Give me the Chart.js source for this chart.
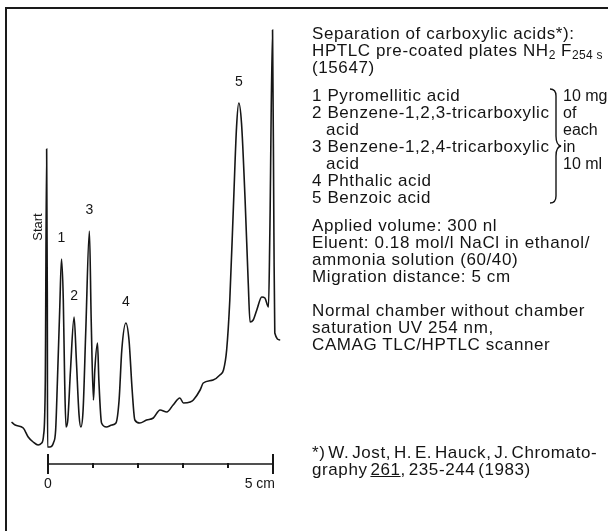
<!DOCTYPE html>
<html>
<head>
<meta charset="utf-8">
<script src="https://cdn.jsdelivr.net/npm/chart.js@4/dist/chart.umd.min.js"></script>
<style>
  body { margin: 0; background: #fff; }
  #wrap { position: relative; width: 608px; height: 531px; overflow: hidden; background: #fff; }
  #chartBox { position: absolute; left: 0; top: 0; width: 608px; height: 531px; }
  #frame { position: absolute; left: 5px; top: 7px; right: -5px; bottom: -5px;
           border-top: 2px solid #1a1a1a; border-left: 2px solid #1a1a1a; pointer-events: none; }
  .txt { position: absolute; font-family: "Liberation Sans", Arial, sans-serif; font-size: 17px;
         line-height: 17px; letter-spacing: 0.6px; color: #141414; white-space: nowrap; }
  .txt sub { font-size: 12px; vertical-align: -3px; line-height: 0; letter-spacing: 0.3px; }
  .ind { padding-left: 14px; }
  .side { font-size: 16px; letter-spacing: 0; }
  .foot { word-spacing: -2.5px; }
</style>
</head>
<body>
<div id="wrap">
  <div id="chartBox"><canvas id="tlcChart"></canvas></div>
  <div id="frame"></div>

  <div class="txt" style="left:312px; top:25px;">
    <div>Separation of carboxylic acids*):</div>
    <div>HPTLC pre-coated plates NH<sub>2</sub> F<sub>254 s</sub></div>
    <div>(15647)</div>
  </div>
  <div class="txt" style="left:312px; top:87px;">
    <div>1 Pyromellitic acid</div>
    <div>2 Benzene-1,2,3-tricarboxylic</div>
    <div class="ind">acid</div>
    <div>3 Benzene-1,2,4-tricarboxylic</div>
    <div class="ind">acid</div>
    <div>4 Phthalic acid</div>
    <div>5 Benzoic acid</div>
  </div>
  <svg style="position:absolute; left:548px; top:88px;" width="16" height="116">
    <path d="M2 1 Q8 1 8 8 L8 48 Q8 57 13 58 Q8 59 8 68 L8 108 Q8 115 2 115"
          fill="none" stroke="#141414" stroke-width="1.4"/>
  </svg>
  <div class="txt side" style="left:563px; top:87px;">
    <div>10 mg</div>
    <div>of</div>
    <div>each</div>
    <div>in</div>
    <div>10 ml</div>
  </div>
  <div class="txt" style="left:312px; top:217px;">
    <div>Applied volume: 300 nl</div>
    <div>Eluent: 0.18 mol/l NaCl in ethanol/</div>
    <div>ammonia solution (60/40)</div>
    <div>Migration distance: 5 cm</div>
  </div>
  <div class="txt" style="left:312px; top:302px;">
    <div>Normal chamber without chamber</div>
    <div>saturation UV 254 nm,</div>
    <div>CAMAG TLC/HPTLC scanner</div>
  </div>
  <div class="txt foot" style="left:312px; top:444px;">
    <div>*) W. Jost, H. E. Hauck, J. Chromato-</div>
    <div>graphy <u>261</u>, 235-244 (1983)</div>
  </div>
</div>

<script>
// Densitogram trace: migration distance (cm) vs detector signal
const positions = [
  -0.81, -0.73, -0.55, -0.44, -0.33, -0.22, -0.14, -0.10, -0.06, -0.03, -0.015, -0.01,
  0.04, 0.12, 0.17, 0.21, 0.26, 0.30, 0.34, 0.37, 0.40, 0.44, 0.50, 0.58, 0.63, 0.69,
  0.73, 0.78, 0.84, 0.92, 0.96, 1.01, 1.04, 1.10, 1.13, 1.19, 1.30, 1.42, 1.51, 1.58,
  1.64, 1.73, 1.80, 1.87, 1.93, 2.04, 2.19, 2.34, 2.49, 2.64, 2.78, 2.93, 3.01, 3.16,
  3.23, 3.38, 3.45, 3.67, 3.82, 3.90, 3.97, 4.04, 4.12, 4.19, 4.24, 4.30, 4.38, 4.45,
  4.49, 4.56, 4.64, 4.75, 4.82, 4.90, 4.93, 4.99, 5.02, 5.04, 5.16
];
const signal = [
  42, 39, 36, 27, 22, 19, 21, 28, 84, 315, 164, 17,
  17, 21, 34, 84, 154, 205, 164, 84, 37, 44, 94, 147, 104, 49,
  37, 54, 134, 233, 144, 64, 94, 121, 84, 41, 37, 39, 41, 64,
  114, 141, 124, 74, 44, 41, 44, 46, 54, 52, 59, 66, 61, 62,
  64, 74, 81, 84, 89, 94, 114, 164, 257, 337, 361, 341, 264, 181,
  142, 144, 154, 167, 166, 157, 231, 434, 231, 131, 124
];

// peak numbers and their migration distance (cm)
const peakLabels = ["1", "2", "3", "4", "5"];
const peakPositions = [0.30, 0.58, 0.92, 1.73, 4.24];

// scale bar under the trace
const scaleTicks = [0, 1, 2, 3, 4, 5];
const scaleTickLabels = ["0", "", "", "", "", "5 cm"];

const startPosition = -0.03;

const annotations = {
    id: "annotations",
    afterDatasetsDraw(chart) {
        const { ctx, scales } = chart;
        const x = scales.x, y = scales.y;
        ctx.save();
        ctx.strokeStyle = "#161616";
        ctx.fillStyle = "#161616";

        // scale bar
        const barY = y.getPixelForValue(0);
        const x0 = x.getPixelForValue(scaleTicks[0]);
        const x1 = x.getPixelForValue(scaleTicks[scaleTicks.length - 1]);
        ctx.lineWidth = 1.5;
        ctx.beginPath();
        ctx.moveTo(x0, barY);
        ctx.lineTo(x1, barY);
        ctx.stroke();
        ctx.lineWidth = 2;
        scaleTicks.forEach((t, i) => {
            const px = x.getPixelForValue(t);
            const end = i === 0 || i === scaleTicks.length - 1;
            ctx.beginPath();
            ctx.moveTo(px, end ? barY - 10 : barY - 1);
            ctx.lineTo(px, end ? barY + 10 : barY + 4);
            ctx.stroke();
        });
        ctx.font = "14px 'Liberation Sans', Arial, sans-serif";
        ctx.textBaseline = "middle";
        scaleTickLabels.forEach((lab, i) => {
            if (!lab) return;
            const px = x.getPixelForValue(scaleTicks[i]);
            ctx.textAlign = i === 0 ? "center" : "right";
            ctx.fillText(lab, i === 0 ? px : px + 2, barY + 20);
        });

        // peak numbers above each peak maximum
        ctx.textAlign = "center";
        ctx.textBaseline = "bottom";
        peakPositions.forEach((p, k) => {
            let best = 0;
            positions.forEach((pos, i) => {
                if (Math.abs(pos - p) < 0.08 && (best === 0 || signal[i] > signal[best])) best = i;
            });
            const px = x.getPixelForValue(positions[best]);
            const py = y.getPixelForValue(signal[best]);
            ctx.fillText(peakLabels[k], px, py - 14);
        });

        // "Start" marker, written upwards next to the start spike
        const si = positions.indexOf(startPosition);
        const sx = x.getPixelForValue(startPosition);
        const sy = y.getPixelForValue(signal[si]);
        ctx.translate(sx - 8, sy + 78);
        ctx.rotate(-Math.PI / 2);
        ctx.textBaseline = "middle";
        ctx.font = "13px 'Liberation Sans', Arial, sans-serif";
        ctx.fillText("Start", 0, 0);
        ctx.restore();
    }
};

new Chart(document.getElementById("tlcChart"), {
    type: "line",
    data: {
        datasets: [
            {
                data: positions.map((p, i) => ({ x: p, y: signal[i] })),
                borderColor: "#161616",
                borderWidth: 1.6,
                pointRadius: 0,
                cubicInterpolationMode: "monotone",
                fill: false,
            },
        ],
    },
    options: {
        responsive: true,
        maintainAspectRatio: false,
        animation: false,
        layout: { padding: 0 },
        plugins: {
            legend: { display: false },
            tooltip: { enabled: false },
        },
        scales: {
            x: { type: "linear", display: false, min: -48 / 45, max: 560 / 45 },
            y: { display: false, min: -67, max: 464 },
        },
    },
    plugins: [annotations],
});
</script>
</body>
</html>
